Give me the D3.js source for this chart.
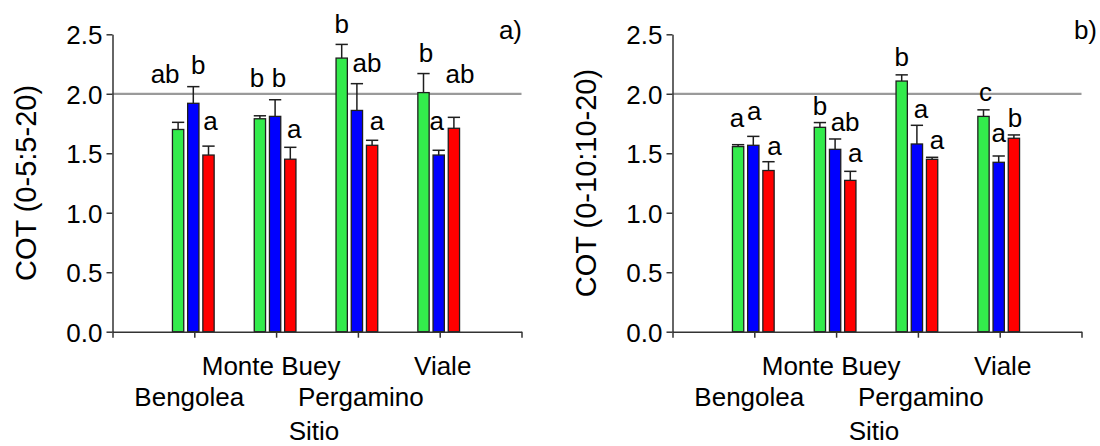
<!DOCTYPE html>
<html>
<head>
<meta charset="utf-8">
<script src="https://cdn.jsdelivr.net/npm/d3@7"></script>
<style>
  html, body { margin: 0; padding: 0; background: #fff; }
  svg { display: block; font-family: "Liberation Sans", Arial, Helvetica, sans-serif; }
</style>
</head>
<body>
<svg id="chart" width="1100" height="446"></svg>
<script>
// ---- data ----
const sites = ["Bengolea", "Monte Buey", "Pergamino", "Viale"];
const treatments = ["T1", "T2", "T3"];
const yTickValues = [0, 0.5, 1.0, 1.5, 2.0, 2.5];
const referenceLevel = 2.0;

// panel a) COT (0-5:5-20)
const cotA_T1 = [1.70, 1.79, 2.30, 2.01];
const cotA_T2 = [1.92, 1.81, 1.86, 1.485];
const cotA_T3 = [1.485, 1.45, 1.567, 1.71];
const errA_T1 = [0.06, 0.025, 0.115, 0.16];
const errA_T2 = [0.14, 0.14, 0.225, 0.04];
const errA_T3 = [0.075, 0.10, 0.042, 0.092];
const letA_T1 = ["ab", "b", "b", "b"];
const letA_T2 = ["b", "b", "ab", "a"];
const letA_T3 = ["a", "a", "a", "ab"];

// panel b) COT (0-10:10-20)
const cotB_T1 = [1.556, 1.718, 2.107, 1.81];
const cotB_T2 = [1.567, 1.533, 1.578, 1.424];
const cotB_T3 = [1.355, 1.272, 1.449, 1.626];
const errB_T1 = [0.016, 0.04, 0.052, 0.055];
const errB_T2 = [0.075, 0.087, 0.157, 0.053];
const errB_T3 = [0.074, 0.076, 0.017, 0.028];
const letB_T1 = ["a", "b", "b", "c"];
const letB_T2 = ["a", "ab", "a", "a"];
const letB_T3 = ["a", "a", "a", "b"];

// ---- layout / style ----
const colors = { T1: "#33eb4c", T2: "#0000ff", T3: "#ff0000" };
// letter placement: [dx from bar centre, lift above error-bar cap] in px
const letterNudgeA = {
  T1: [[-13, 39], [-3, 29], [0, 11], [2.5, 11.5]],
  T2: [[5, 13], [4, 13], [10, 11.5], [-2, 20]],
  T3: [[2, 16], [4, 9], [5, 10], [6, 34]]
};
const letterNudgeB = {
  T1: [[-1, 18], [0, 7.5], [0, 8.5], [2, 8.5]],
  T2: [[1, 16], [10, 7.5], [4, 7], [0, 14]],
  T3: [[6, 7], [5, 9.5], [5, 8], [1, 7.5]]
};

const svg = d3.select("#chart");
const yTop = 34.3, yBottom = 331.7;
const y = d3.scaleLinear().domain([0, 2.5]).range([yBottom, yTop]);

function drawPanel(p) {
  const g = svg.append("g");
  const xPos = d3.scaleLinear().domain([0, sites.length + 1]).range([p.x0, p.x1]);
  const stride = 15.2, barW = 11.3;
  const sub = d3.scaleBand().domain(treatments)
    .range([-(stride + barW / 2), stride + barW / 2])
    .paddingInner(1 - barW / stride);

  // reference line
  g.append("line")
    .attr("x1", p.x0).attr("x2", p.x1)
    .attr("y1", y(referenceLevel)).attr("y2", y(referenceLevel))
    .attr("stroke", "#9a9a9a").attr("stroke-width", 2.2);

  const rows = [];
  treatments.forEach(t => {
    sites.forEach((s, i) => {
      rows.push({ t, i, v: p.means[t][i], e: p.errs[t][i], l: p.letters[t][i], n: p.nudge[t][i] });
    });
  });
  const cx = d => xPos(d.i + 1) - 1 + sub(d.t) + sub.bandwidth() / 2;

  // error bars (upper only)
  const eb = g.append("g").attr("stroke", "#1e1e1e").attr("stroke-width", 1.5).attr("fill", "none");
  eb.selectAll("line.v").data(rows).join("line")
    .attr("x1", cx).attr("x2", cx)
    .attr("y1", d => y(d.v)).attr("y2", d => y(d.v + d.e));
  eb.selectAll("line.c").data(rows).join("line")
    .attr("x1", d => cx(d) - sub.bandwidth() / 2 - 0.5).attr("x2", d => cx(d) + sub.bandwidth() / 2 + 0.5)
    .attr("y1", d => y(d.v + d.e)).attr("y2", d => y(d.v + d.e));

  // bars
  g.append("g").selectAll("rect").data(rows).join("rect")
    .attr("x", d => cx(d) - sub.bandwidth() / 2)
    .attr("width", sub.bandwidth())
    .attr("y", d => y(d.v))
    .attr("height", d => y(0) - y(d.v))
    .attr("fill", d => colors[d.t])
    .attr("stroke", "#1e1e1e").attr("stroke-width", 1.3);

  // significance letters
  g.append("g").selectAll("text").data(rows).join("text")
    .attr("x", d => cx(d) + d.n[0])
    .attr("y", d => y(d.v + d.e) - d.n[1])
    .attr("text-anchor", "middle")
    .attr("font-size", 26)
    .attr("fill", "#000")
    .text(d => d.l);

  // y axis
  const ya = g.append("g").attr("transform", `translate(${p.x0},0)`)
    .call(d3.axisLeft(y).tickValues(yTickValues).tickFormat(d3.format(".1f")).tickSize(6).tickSizeOuter(0).tickPadding(4));
  ya.select(".domain").attr("stroke", "#333").attr("stroke-width", 1.5);
  ya.selectAll(".tick line").attr("stroke", "#333").attr("stroke-width", 1.5);
  ya.selectAll(".tick text").attr("font-size", 26).attr("font-family", null).attr("fill", "#000").attr("dy", "0.36em");

  // x axis
  const xa = g.append("g").attr("transform", `translate(0,${yBottom})`)
    .call(d3.axisBottom(xPos).tickValues(d3.range(0, sites.length + 2)).tickFormat("").tickSize(6).tickSizeOuter(0));
  xa.select(".domain").attr("stroke", "#333").attr("stroke-width", 1.5);
  xa.selectAll(".tick line").attr("stroke", "#333").attr("stroke-width", 1.5);

  // staggered site labels
  g.append("g").selectAll("text").data(sites).join("text")
    .attr("x", (s, i) => xPos(i + 1) + (i < 2 ? -5 : 3))
    .attr("y", (s, i) => i % 2 === 1 ? 375 : 406)
    .attr("text-anchor", "middle")
    .attr("font-size", 26)
    .attr("fill", "#000")
    .text(s => s);

  // axis titles
  g.append("text")
    .attr("x", (p.x0 + p.x1) / 2 - 3).attr("y", 440)
    .attr("text-anchor", "middle").attr("font-size", 26).attr("fill", "#000")
    .text("Sitio");
  g.append("text")
    .attr("transform", `translate(${p.x0 - 77},${(yTop + yBottom) / 2}) rotate(-90)`)
    .attr("text-anchor", "middle").attr("font-size", 29).attr("fill", "#000")
    .text(p.title);

  // panel tag
  g.append("text")
    .attr("x", p.tagX).attr("y", 39)
    .attr("text-anchor", "end").attr("font-size", 26).attr("fill", "#000")
    .text(p.tag);
}

drawPanel({
  x0: 112.5, x1: 521.5, tagX: 522, tag: "a)", title: "COT (0-5:5-20)",
  means: { T1: cotA_T1, T2: cotA_T2, T3: cotA_T3 },
  errs: { T1: errA_T1, T2: errA_T2, T3: errA_T3 },
  letters: { T1: letA_T1, T2: letA_T2, T3: letA_T3 },
  nudge: letterNudgeA
});
drawPanel({
  x0: 672.5, x1: 1081.5, tagX: 1097, tag: "b)", title: "COT (0-10:10-20)",
  means: { T1: cotB_T1, T2: cotB_T2, T3: cotB_T3 },
  errs: { T1: errB_T1, T2: errB_T2, T3: errB_T3 },
  letters: { T1: letB_T1, T2: letB_T2, T3: letB_T3 },
  nudge: letterNudgeB
});
</script>
</body>
</html>
